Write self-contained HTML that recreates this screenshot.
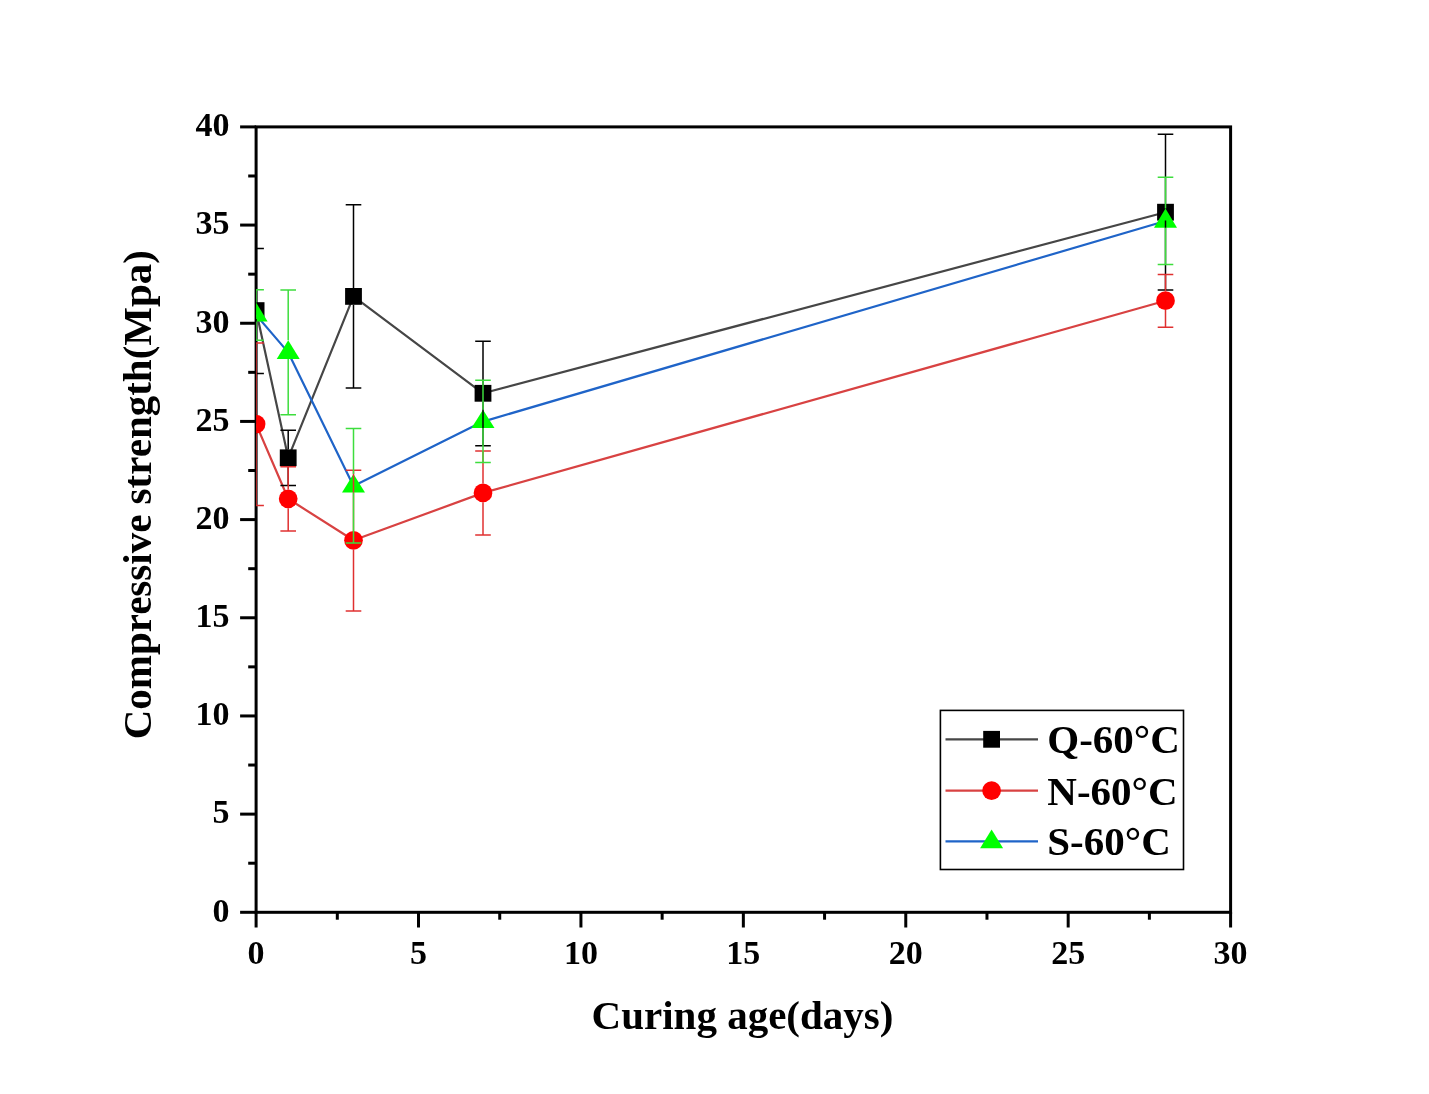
<!DOCTYPE html><html><head><meta charset="utf-8"><style>html,body{margin:0;padding:0;background:#fff;overflow:hidden}svg{display:block;will-change:transform}</style></head><body>
<svg width="1429" height="1094" viewBox="0 0 1429 1094">
<rect width="1429" height="1094" fill="#fff"/>
<defs><clipPath id="pc"><rect x="256.1" y="126.9" width="974.4999999999999" height="785.4"/></clipPath></defs>
<g stroke="#000" stroke-width="3.0" fill="none" stroke-linecap="square">
<rect x="256.1" y="126.9" width="974.4999999999999" height="785.4"/>
</g>
<g stroke="#000" stroke-width="3.0">
<line x1="240.1" y1="912.30" x2="256.1" y2="912.30"/>
<line x1="240.1" y1="814.12" x2="256.1" y2="814.12"/>
<line x1="240.1" y1="715.95" x2="256.1" y2="715.95"/>
<line x1="240.1" y1="617.77" x2="256.1" y2="617.77"/>
<line x1="240.1" y1="519.60" x2="256.1" y2="519.60"/>
<line x1="240.1" y1="421.42" x2="256.1" y2="421.42"/>
<line x1="240.1" y1="323.25" x2="256.1" y2="323.25"/>
<line x1="240.1" y1="225.07" x2="256.1" y2="225.07"/>
<line x1="240.1" y1="126.90" x2="256.1" y2="126.90"/>
<line x1="248.2" y1="863.21" x2="256.1" y2="863.21"/>
<line x1="248.2" y1="765.04" x2="256.1" y2="765.04"/>
<line x1="248.2" y1="666.86" x2="256.1" y2="666.86"/>
<line x1="248.2" y1="568.69" x2="256.1" y2="568.69"/>
<line x1="248.2" y1="470.51" x2="256.1" y2="470.51"/>
<line x1="248.2" y1="372.34" x2="256.1" y2="372.34"/>
<line x1="248.2" y1="274.16" x2="256.1" y2="274.16"/>
<line x1="248.2" y1="175.99" x2="256.1" y2="175.99"/>
<line x1="256.10" y1="912.3" x2="256.10" y2="927.5"/>
<line x1="418.52" y1="912.3" x2="418.52" y2="927.5"/>
<line x1="580.93" y1="912.3" x2="580.93" y2="927.5"/>
<line x1="743.35" y1="912.3" x2="743.35" y2="927.5"/>
<line x1="905.77" y1="912.3" x2="905.77" y2="927.5"/>
<line x1="1068.18" y1="912.3" x2="1068.18" y2="927.5"/>
<line x1="1230.60" y1="912.3" x2="1230.60" y2="927.5"/>
<line x1="337.31" y1="912.3" x2="337.31" y2="919.7"/>
<line x1="499.73" y1="912.3" x2="499.73" y2="919.7"/>
<line x1="662.14" y1="912.3" x2="662.14" y2="919.7"/>
<line x1="824.56" y1="912.3" x2="824.56" y2="919.7"/>
<line x1="986.97" y1="912.3" x2="986.97" y2="919.7"/>
<line x1="1149.39" y1="912.3" x2="1149.39" y2="919.7"/>
</g>
<g font-family='"Liberation Serif", serif' font-weight="bold" font-size="34" fill="#000">
<text x="229.5" y="921.60" text-anchor="end">0</text>
<text x="229.5" y="823.42" text-anchor="end">5</text>
<text x="229.5" y="725.25" text-anchor="end">10</text>
<text x="229.5" y="627.07" text-anchor="end">15</text>
<text x="229.5" y="528.90" text-anchor="end">20</text>
<text x="229.5" y="430.72" text-anchor="end">25</text>
<text x="229.5" y="332.55" text-anchor="end">30</text>
<text x="229.5" y="234.37" text-anchor="end">35</text>
<text x="229.5" y="136.20" text-anchor="end">40</text>
<text x="256.10" y="963.8" text-anchor="middle">0</text>
<text x="418.52" y="963.8" text-anchor="middle">5</text>
<text x="580.93" y="963.8" text-anchor="middle">10</text>
<text x="743.35" y="963.8" text-anchor="middle">15</text>
<text x="905.77" y="963.8" text-anchor="middle">20</text>
<text x="1068.18" y="963.8" text-anchor="middle">25</text>
<text x="1230.60" y="963.8" text-anchor="middle">30</text>
</g>
<text x="742.5" y="1029" text-anchor="middle" font-family='"Liberation Serif", serif' font-weight="bold" font-size="41">Curing age(days)</text>
<text transform="translate(151,494.7) rotate(-90)" text-anchor="middle" font-family='"Liberation Serif", serif' font-weight="bold" font-size="41">Compressive strength(Mpa)</text>
<g clip-path="url(#pc)">
<polyline points="256.10,310.60 288.20,457.80 353.50,296.40 483.00,393.30 1165.50,212.20" fill="none" stroke="#464646" stroke-width="2.2" stroke-linejoin="round"/>
<rect x="247.70" y="302.20" width="16.8" height="16.8" fill="#000000"/>
<rect x="279.80" y="449.40" width="16.8" height="16.8" fill="#000000"/>
<rect x="345.10" y="288.00" width="16.8" height="16.8" fill="#000000"/>
<rect x="474.60" y="384.90" width="16.8" height="16.8" fill="#000000"/>
<rect x="1157.10" y="203.80" width="16.8" height="16.8" fill="#000000"/>
<polyline points="256.10,424.10 288.20,498.80 353.50,540.30 483.00,492.90 1165.50,300.70" fill="none" stroke="#d84242" stroke-width="2.2" stroke-linejoin="round"/>
<circle cx="256.10" cy="424.10" r="9.35" fill="#ff0000"/>
<circle cx="288.20" cy="498.80" r="9.35" fill="#ff0000"/>
<circle cx="353.50" cy="540.30" r="9.35" fill="#ff0000"/>
<circle cx="483.00" cy="492.90" r="9.35" fill="#ff0000"/>
<circle cx="1165.50" cy="300.70" r="9.35" fill="#ff0000"/>
<polyline points="256.10,315.00 288.20,352.40 353.50,485.90 483.00,421.60 1165.50,221.00" fill="none" stroke="#1f64c8" stroke-width="2.2" stroke-linejoin="round"/>
<path d="M256.10,302.40 L267.60,321.60 L244.60,321.60 Z" fill="#00ff00"/>
<path d="M288.20,340.30 L299.70,359.10 L276.70,359.10 Z" fill="#00ff00"/>
<path d="M353.50,474.10 L365.00,492.60 L342.00,492.60 Z" fill="#00ff00"/>
<path d="M483.00,409.70 L494.50,427.90 L471.50,427.90 Z" fill="#00ff00"/>
<path d="M1165.50,208.50 L1177.00,227.70 L1154.00,227.70 Z" fill="#00ff00"/>
<g stroke="#000000" stroke-width="1.5" fill="none">
<line x1="256.10" y1="248.60" x2="256.10" y2="302.20"/>
<line x1="256.10" y1="319.00" x2="256.10" y2="373.40"/>
<line x1="248.30" y1="248.60" x2="263.90" y2="248.60"/>
<line x1="248.30" y1="373.40" x2="263.90" y2="373.40"/>
<line x1="288.20" y1="430.30" x2="288.20" y2="449.40"/>
<line x1="288.20" y1="466.20" x2="288.20" y2="485.40"/>
<line x1="280.40" y1="430.30" x2="296.00" y2="430.30"/>
<line x1="280.40" y1="485.40" x2="296.00" y2="485.40"/>
<line x1="353.50" y1="204.70" x2="353.50" y2="288.00"/>
<line x1="353.50" y1="304.80" x2="353.50" y2="388.00"/>
<line x1="345.70" y1="204.70" x2="361.30" y2="204.70"/>
<line x1="345.70" y1="388.00" x2="361.30" y2="388.00"/>
<line x1="483.00" y1="341.30" x2="483.00" y2="384.90"/>
<line x1="483.00" y1="401.70" x2="483.00" y2="445.70"/>
<line x1="475.20" y1="341.30" x2="490.80" y2="341.30"/>
<line x1="475.20" y1="445.70" x2="490.80" y2="445.70"/>
<line x1="1165.50" y1="134.30" x2="1165.50" y2="203.80"/>
<line x1="1165.50" y1="220.60" x2="1165.50" y2="290.00"/>
<line x1="1157.70" y1="134.30" x2="1173.30" y2="134.30"/>
<line x1="1157.70" y1="290.00" x2="1173.30" y2="290.00"/>
</g>
<g stroke="#e03030" stroke-width="1.5" fill="none">
<line x1="256.10" y1="342.90" x2="256.10" y2="414.75"/>
<line x1="256.10" y1="433.45" x2="256.10" y2="505.40"/>
<line x1="248.30" y1="342.90" x2="263.90" y2="342.90"/>
<line x1="248.30" y1="505.40" x2="263.90" y2="505.40"/>
<line x1="288.20" y1="466.80" x2="288.20" y2="489.45"/>
<line x1="288.20" y1="508.15" x2="288.20" y2="531.10"/>
<line x1="280.40" y1="466.80" x2="296.00" y2="466.80"/>
<line x1="280.40" y1="531.10" x2="296.00" y2="531.10"/>
<line x1="353.50" y1="470.20" x2="353.50" y2="530.95"/>
<line x1="353.50" y1="549.65" x2="353.50" y2="610.90"/>
<line x1="345.70" y1="470.20" x2="361.30" y2="470.20"/>
<line x1="345.70" y1="610.90" x2="361.30" y2="610.90"/>
<line x1="483.00" y1="451.10" x2="483.00" y2="483.55"/>
<line x1="483.00" y1="502.25" x2="483.00" y2="534.90"/>
<line x1="475.20" y1="451.10" x2="490.80" y2="451.10"/>
<line x1="475.20" y1="534.90" x2="490.80" y2="534.90"/>
<line x1="1165.50" y1="274.40" x2="1165.50" y2="291.35"/>
<line x1="1165.50" y1="310.05" x2="1165.50" y2="327.20"/>
<line x1="1157.70" y1="274.40" x2="1173.30" y2="274.40"/>
<line x1="1157.70" y1="327.20" x2="1173.30" y2="327.20"/>
</g>
<g stroke="#3ddd3d" stroke-width="1.5" fill="none">
<line x1="256.10" y1="289.70" x2="256.10" y2="302.40"/>
<line x1="256.10" y1="321.60" x2="256.10" y2="340.30"/>
<line x1="248.30" y1="289.70" x2="263.90" y2="289.70"/>
<line x1="248.30" y1="340.30" x2="263.90" y2="340.30"/>
<line x1="288.20" y1="289.90" x2="288.20" y2="340.30"/>
<line x1="288.20" y1="359.10" x2="288.20" y2="414.80"/>
<line x1="280.40" y1="289.90" x2="296.00" y2="289.90"/>
<line x1="280.40" y1="414.80" x2="296.00" y2="414.80"/>
<line x1="353.50" y1="428.60" x2="353.50" y2="474.10"/>
<line x1="353.50" y1="492.60" x2="353.50" y2="542.90"/>
<line x1="345.70" y1="428.60" x2="361.30" y2="428.60"/>
<line x1="345.70" y1="542.90" x2="361.30" y2="542.90"/>
<line x1="483.00" y1="380.30" x2="483.00" y2="409.70"/>
<line x1="483.00" y1="427.90" x2="483.00" y2="462.50"/>
<line x1="475.20" y1="380.30" x2="490.80" y2="380.30"/>
<line x1="475.20" y1="462.50" x2="490.80" y2="462.50"/>
<line x1="1165.50" y1="177.20" x2="1165.50" y2="208.50"/>
<line x1="1165.50" y1="227.70" x2="1165.50" y2="264.50"/>
<line x1="1157.70" y1="177.20" x2="1173.30" y2="177.20"/>
<line x1="1157.70" y1="264.50" x2="1173.30" y2="264.50"/>
</g>
</g>
<rect x="940.4" y="710.4" width="243.1" height="159.1" fill="#fff" stroke="#000" stroke-width="1.6"/>
<line x1="945.5" y1="739.3" x2="1038" y2="739.3" stroke="#464646" stroke-width="2.2"/>
<rect x="983.20" y="730.90" width="16.8" height="16.8" fill="#000000"/>
<text x="1047.3" y="753.30" font-family='"Liberation Serif", serif' font-weight="bold" font-size="41">Q-60°C</text>
<line x1="945.5" y1="790.7" x2="1038" y2="790.7" stroke="#d84242" stroke-width="2.2"/>
<circle cx="991.6" cy="790.7" r="9.35" fill="#ff0000"/>
<text x="1047.3" y="804.70" font-family='"Liberation Serif", serif' font-weight="bold" font-size="41">N-60°C</text>
<line x1="945.5" y1="841.3" x2="1038" y2="841.3" stroke="#1f64c8" stroke-width="2.2"/>
<path d="M991.6,829.40 L1003.10,848.30 L980.10,848.30 Z" fill="#00ff00"/>
<text x="1047.3" y="855.30" font-family='"Liberation Serif", serif' font-weight="bold" font-size="41">S-60°C</text>
</svg></body></html>
